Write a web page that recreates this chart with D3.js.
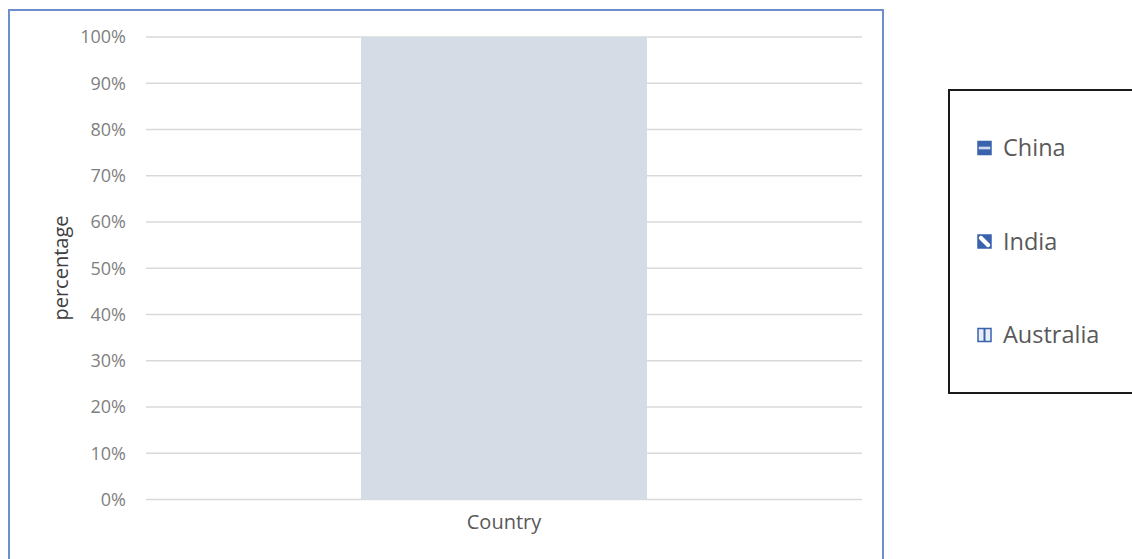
<!DOCTYPE html>
<html>
<head>
<meta charset="utf-8">
<script src="https://cdn.jsdelivr.net/npm/d3@7"></script>
<style>
  html, body { margin: 0; padding: 0; background: #ffffff; }
  svg { display: block; }
  text { font-family: "Open Sans", "Noto Sans", sans-serif; }
</style>
</head>
<body>
<svg id="chart" width="1132" height="559"></svg>
<script>
// Single 100% stacked column
const categories = ["Country"];
const barValues = [1.0];
const seriesNames = ["China", "India", "Australia"];
const tickValues = [0, 0.1, 0.2, 0.3, 0.4, 0.5, 0.6, 0.7, 0.8, 0.9, 1.0];

const svg = d3.select("#chart");

// chart frame
svg.append("rect")
  .attr("x", 9).attr("y", 10)
  .attr("width", 874).attr("height", 560)
  .attr("fill", "#ffffff")
  .attr("stroke", "#6f8fcc").attr("stroke-width", 2);

const plot = { left: 146, right: 862, top: 37, bottom: 499.5 };

const x = d3.scaleBand()
  .domain(categories)
  .range([plot.left, plot.right])
  .paddingInner(0).paddingOuter(0.5);

const y = d3.scaleLinear()
  .domain([0, 1])
  .range([plot.bottom, plot.top]);

// gridlines
svg.append("g")
  .selectAll("line")
  .data(tickValues)
  .join("line")
  .attr("x1", plot.left).attr("x2", plot.right)
  .attr("y1", d => y(d)).attr("y2", d => y(d))
  .attr("stroke", "#d9d9d9").attr("stroke-width", 1.3);

// y axis labels
const yAxis = d3.axisLeft(y)
  .tickValues(tickValues)
  .tickFormat(d3.format(".0%"))
  .tickSize(0).tickPadding(0);
const yg = svg.append("g")
  .attr("transform", `translate(${plot.left - 20},0)`)
  .call(yAxis);
yg.select(".domain").remove();
yg.selectAll("text")
  .attr("font-size", 18)
  .attr("fill", "#7f7f7f")
  .attr("font-family", "'Open Sans', sans-serif");

// bar
const bw = 286;
svg.append("g")
  .selectAll("rect")
  .data(categories.map((c, i) => ({ c, v: barValues[i] })))
  .join("rect")
  .attr("x", d => x(d.c) + x.bandwidth() / 2 - bw / 2)
  .attr("width", bw)
  .attr("y", d => y(d.v))
  .attr("height", d => y(0) - y(d.v))
  .attr("fill", "#d6dce5");

// x axis category label
svg.append("g")
  .selectAll("text")
  .data(categories)
  .join("text")
  .attr("x", d => x(d) + x.bandwidth() / 2)
  .attr("y", 529)
  .attr("text-anchor", "middle")
  .attr("font-size", 20)
  .attr("fill", "#595959")
  .text(d => d);

// y axis title
svg.append("text")
  .attr("transform", "translate(68,268) rotate(-90)")
  .attr("text-anchor", "middle")
  .attr("font-size", 20)
  .attr("fill", "#404040")
  .text("percentage");

// legend patterns
const defs = svg.append("defs");
const blue = "#3b62ad";
const S = 13;

const pH = defs.append("pattern").attr("id", "pat-h")
  .attr("patternUnits", "userSpaceOnUse").attr("width", S).attr("height", S);
pH.append("rect").attr("width", S).attr("height", S).attr("fill", blue);
pH.append("rect").attr("x", 0).attr("y", 5.5).attr("width", S).attr("height", 2).attr("fill", "#ffffff");

const pD = defs.append("pattern").attr("id", "pat-d")
  .attr("patternUnits", "userSpaceOnUse").attr("width", S).attr("height", S);
pD.append("rect").attr("width", S).attr("height", S).attr("fill", blue);
pD.append("path").attr("d", `M0,3 L3,0 L${S},${S - 3} L${S - 3},${S} Z`).attr("fill", "#ffffff");

const pV = defs.append("pattern").attr("id", "pat-v")
  .attr("patternUnits", "userSpaceOnUse").attr("width", S).attr("height", S);
pV.append("rect").attr("width", S).attr("height", S).attr("fill", "#e8eef8");
pV.append("rect").attr("x", 5.5).attr("y", 0).attr("width", 2).attr("height", S).attr("fill", blue);

const patterns = ["pat-h", "pat-d", "pat-v"];

// legend box
svg.append("rect")
  .attr("x", 949).attr("y", 90)
  .attr("width", 200).attr("height", 303)
  .attr("fill", "#ffffff")
  .attr("stroke", "#1a1a1a").attr("stroke-width", 2);

const ly = d3.scalePoint().domain(seriesNames).range([148, 335]);

const items = svg.append("g")
  .selectAll("g")
  .data(seriesNames)
  .join("g")
  .attr("transform", d => `translate(978,${ly(d) - S / 2})`);

items.append("rect")
  .attr("x", 0).attr("y", 0)
  .attr("width", S).attr("height", S)
  .attr("fill", (d, i) => `url(#${patterns[i]})`)
  .attr("stroke", blue).attr("stroke-width", 1.5);

items.append("text")
  .attr("x", 25).attr("y", S / 2)
  .attr("dy", "0.36em")
  .attr("font-size", 23.5)
  .attr("fill", "#595959")
  .text(d => d);
</script>
</body>
</html>
